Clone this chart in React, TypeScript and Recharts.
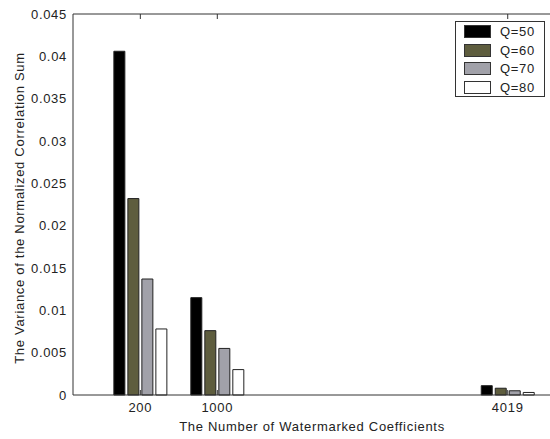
import React from "react";
import { BarChart, Bar, XAxis, YAxis } from "recharts";

// x: number of watermarked coefficients
const coefficients = [200, 1000, 4019];
// variance of the normalized correlation sum per quality factor
const q50 = [0.0406, 0.0115, 0.0011];
const q60 = [0.0232, 0.0076, 0.0008];
const q70 = [0.0137, 0.0055, 0.0005];
const q80 = [0.0078, 0.003, 0.0003];

const seriesNames = ["Q=50", "Q=60", "Q=70", "Q=80"];
const seriesKeys = ["q50", "q60", "q70", "q80"];
const seriesColors = ["#000000", "#5e5d3e", "#a1a1a9", "#ffffff"];

const yTicks = [0, 0.005, 0.01, 0.015, 0.02, 0.025, 0.03, 0.035, 0.04, 0.045];

const data = coefficients.map((n, i) => ({
  n,
  q50: q50[i],
  q60: q60[i],
  q70: q70[i],
  q80: q80[i],
}));

const FONT = "'Liberation Sans', Arial, sans-serif";
const AXIS = "#333";
const txt = { fontSize: 13, fontFamily: FONT, fill: "#222", letterSpacing: 0.7 };

// MATLAB style ticks: short marks pointing into the plot, label outside
const BottomTick = (props: any) => {
  const { x, y, payload } = props;
  return (
    <g>
      <line x1={x} y1={y} x2={x} y2={y - 5} stroke={AXIS} />
      <text x={x} y={y + 17} textAnchor="middle" {...txt}>
        {payload.value}
      </text>
    </g>
  );
};

const TopTick = (props: any) => {
  const { x, y } = props;
  return <line x1={x} y1={y} x2={x} y2={y + 5} stroke={AXIS} />;
};

const LeftTick = (props: any) => {
  const { x, y, payload } = props;
  const v = Number(payload.value.toFixed(3)).toString();
  return (
    <text x={x - 6} y={y + 4.5} textAnchor="end" {...txt}>
      {v}
    </text>
  );
};

function Legend() {
  return (
    <div
      style={{
        position: "absolute",
        left: 455,
        top: 21,
        width: 88,
        height: 74,
        border: "1px solid #333",
        background: "#fff",
        fontFamily: FONT,
        fontSize: 13,
        letterSpacing: 0.7,
        color: "#222",
      }}
    >
      {seriesNames.map((name, i) => (
        <div
          key={name}
          style={{ position: "absolute", left: 8, top: 2 + i * 18.7, display: "flex", alignItems: "center" }}
        >
          <div
            style={{
              width: 25,
              height: 11,
              background: seriesColors[i],
              border: "1px solid #333",
            }}
          />
          <span style={{ marginLeft: 9 }}>{name}</span>
        </div>
      ))}
    </div>
  );
}

export default function App() {
  return (
    <div
      style={{
        position: "absolute",
        left: 0,
        top: 0,
        width: 550,
        height: 439,
        overflow: "hidden",
        background: "#fff",
      }}
    >
      <BarChart
        width={560}
        height={439}
        data={data}
        margin={{ top: 0, right: 6, bottom: 0, left: 0 }}
        barSize={11}
        barGap={3}
      >
        <XAxis
          dataKey="n"
          type="number"
          domain={[-500, 4500]}
          ticks={coefficients}
          allowDataOverflow
          height={44}
          tickSize={0}
          tickMargin={0}
          tickLine={false}
          stroke={AXIS}
          tick={<BottomTick />}
          label={{
            content: () => (
              <text x={312} y={431} textAnchor="middle" {...txt}>
                The Number of Watermarked Coefficients
              </text>
            ),
          }}
        />
        <XAxis
          xAxisId="top"
          dataKey="n"
          type="number"
          orientation="top"
          domain={[-500, 4500]}
          ticks={coefficients}
          allowDataOverflow
          height={14}
          tickSize={0}
          tickMargin={0}
          tickLine={false}
          stroke={AXIS}
          tick={<TopTick />}
        />
        <YAxis
          domain={[0, 0.045]}
          ticks={yTicks}
          width={73}
          tickSize={0}
          tickMargin={0}
          tickLine={false}
          stroke={AXIS}
          tick={<LeftTick />}
          label={{
            content: () => (
              <text
                x={24}
                y={208}
                transform="rotate(-90 24 208)"
                textAnchor="middle"
                {...txt}
              >
                The Variance of the Normalized Correlation Sum
              </text>
            ),
          }}
        />
        {seriesKeys.map((k, i) => (
          <Bar
            key={k}
            dataKey={k}
            name={seriesNames[i]}
            fill={seriesColors[i]}
            stroke="#222"
            strokeWidth={1}
            isAnimationActive={false}
          />
        ))}
      </BarChart>
      <Legend />
    </div>
  );
}
